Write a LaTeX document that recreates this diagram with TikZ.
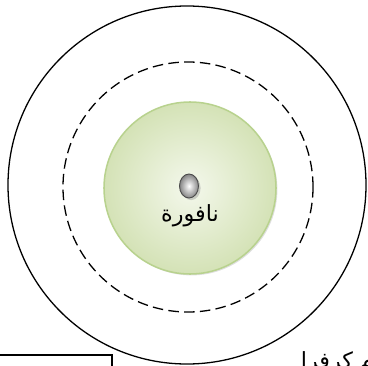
\documentclass[tikz,border=0pt]{standalone}
\usepackage{fontspec}
\usetikzlibrary{shapes.geometric, shadows}
\newfontfamily\arabicfont[Script=Arabic]{DejaVu Sans}
\TeXXeTstate=1
\definecolor{poolcore}{HTML}{F4F8EC}
\definecolor{poolfill}{HTML}{D4E2B6}
\definecolor{pooledge}{HTML}{B8D28E}
\definecolor{jetgray}{HTML}{858585}
\definecolor{zoneink}{HTML}{000000}

\begin{document}
\begin{tikzpicture}[
    x=0.03cm, y=-0.03cm,
    ring/.style={circle, draw=zoneink, line width=1.1pt, inner sep=0pt},
    pool/.style={circle, draw=pooledge, line width=1.3pt, inner sep=0pt,
                 inner color=poolcore, outer color=poolfill,
                 drop shadow={shadow xshift=1.2pt, shadow yshift=-1.2pt, opacity=0.25}},
    jet/.style={ellipse, draw=black!70, line width=0.8pt, inner sep=0pt,
                minimum width=0.57cm, minimum height=0.72cm,
                inner color=white, outer color=jetgray,
                drop shadow={shadow xshift=1.8pt, shadow yshift=-1.8pt, opacity=0.35}},
    lab/.style={font=\arabicfont\fontsize{19}{22}\selectfont, inner sep=0pt},
]
\clip (0,0) rectangle (368,365);

% zones round the fountain
\node[ring, minimum size=10.74cm] (outer) at (187,185) {};
\node[ring, dashed, dash pattern=on 9pt off 4.5pt, minimum size=7.5cm] (inner) at (188,187) {};

% the fountain
\node[pool, minimum size=5.16cm] (basin) at (190,188) {};
\node[jet] (spout) at (189,186) {};
\node[lab, anchor=north] (name) at (190,204) {\beginR نافورة\endR};

% legend box and caption, cut by the page edge
\draw[line width=1.1pt] (-5,355) rectangle (112,380);
\node[lab, anchor=base east] (caption) at (374,368) {\beginR م كرفرا\endR};

\end{tikzpicture}
\end{document}
